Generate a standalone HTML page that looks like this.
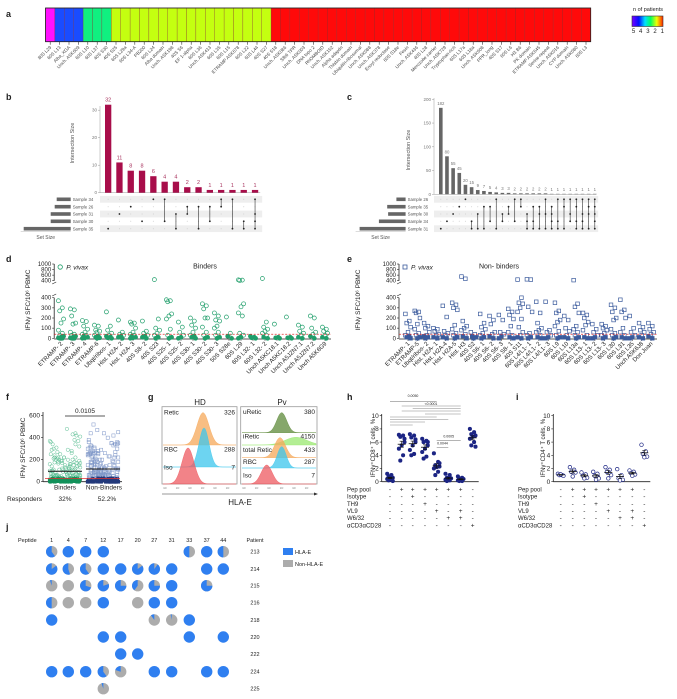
<!DOCTYPE html>
<html><head><meta charset="utf-8">
<style>
html,body{margin:0;padding:0;background:#fff;}
svg{display:block;font-family:"Liberation Sans",Arial,sans-serif;}
</style></head>
<body>
<svg id="fig" width="677" height="699" viewBox="0 0 677 699" xmlns="http://www.w3.org/2000/svg">
<defs>
<linearGradient id="npat" x1="0" x2="1" y1="0" y2="0">
<stop offset="0" stop-color="#7a00ff"/><stop offset="0.22" stop-color="#0010ff"/><stop offset="0.42" stop-color="#00e0ff"/><stop offset="0.6" stop-color="#00ff60"/><stop offset="0.8" stop-color="#f0ff00"/><stop offset="1" stop-color="#ff2000"/>
</linearGradient>
</defs>
</svg>
<script>
// ---------- DATA ----------
const heatLabels = ["80S L29","60S L13","Alba_XGA","Unch. ASK609","60S L10","60S L37","40S S30","40S S25","60S L29a","60S L34-A","PB200","60S L24","Alba domain","Unch. ASK198","40S S6","EF 1-alpha","60S L36","Unch. ASK413","60S L35","60S L15","ETRAMP ASK678","60S L22","60S L44","40S S27","40S S18","Unch. ASK086","Sfb6 TPR","Unch. ASK003","DNA topo 2","RhOMBOID","Unch. ASK152","Alpha adaptin","Thisbio domain","Ubiquitin-ribosomal","Unch. ASK088","Unch. ASK378","Enoyl reductase","60S S18e","Fesin","Unch. ASK436","40S L28","Merozoite carrier","Unch. ASK729","Tryptophan-rich","60S L17a","60S L18a","Unch. ASK608","PPR_long","40S S17","60S L6","H3 B6","PK domain","ETRAMP ASK645","Serine-repeat","Unch. ASK016","CYP domain","Unch. ASK080","60S L3"];
const heatCounts = [5,4,4,4,3,3,3,2,2,2,2,2,2,2,2,2,2,2,2,2,2,2,2,2,1,1,1,1,1,1,1,1,1,1,1,1,1,1,1,1,1,1,1,1,1,1,1,1,1,1,1,1,1,1,1,1,1,1];

const bValues = [32,11,8,8,6,4,4,2,2,1,1,1,1,1];
const bSets = ["Sample 34","Sample 26","Sample 31","Sample 30","Sample 35"];
const bSetSizes = [14,16,20,20,47];
const bCombos = [[4],[2],[1],[3],[0],[0,3],[2,4],[1,2],[1,4],[1,3],[0,1],[0,4],[3,4],[0,2,3,4]];

const cValues = [182,80,55,45,20,15,9,7,5,4,3,3,2,2,2,2,2,2,1,1,1,1,1,1,1,1];
const cSets = ["Sample 26","Sample 35","Sample 30","Sample 34","Sample 31"];
const cSetSizes = [20,40,38,58,100];
const cCombos = [[4],[3],[2],[1],[0],[3,4],[2,4],[1,4],[1,3],[0,4],[2,3],[1,2],[0,3],[0,1],[2,3,4],[1,3,4],[1,2,4],[0,2,4],[1,2,3,4],[0,3,4],[0,1,4],[0,2,3],[0,1,3,4],[0,2,3,4],[0,1,2,4],[0,1,2,3,4]];

const dCats = ["ETRAMP- 2","ETRAMP- 3","ETRAMP- 4","ETRAMP-6","Ubqt/ribos- 1","Hist. H2A- 2","Hist. H2A- 3","40S S8- 2","40S S23","40S S25- 1","40S S25- 2","40S S30- 1","40S S30- 2","40S S30- 3","50S S28e","60S L29","60S L32- 1","60S L32- 2","Unch A5KC18.1","Unch A5KC18.2","Unch A5JZN7.1","Unch A5JZN7.2","Unch A5K6G9"];
const dVals = [
[370,300,270,190,150,80,50,30,20,10,5,0,0],
[290,280,220,150,140,60,40,30,20,10,5,0,0],
[175,165,120,90,60,40,30,20,10,5,0],
[130,120,80,70,60,30,20,10,5,0],
[260,120,80,50,30,20,10,5,0],
[180,60,40,30,20,10,0],
[160,150,140,100,60,40,30,20,10,5,0],
[170,70,50,30,20,10,0],
[440,190,100,80,50,30,10,0],
[380,370,360,240,220,190,90,30,10,0],
[160,110,60,30,10,0],
[200,170,130,100,60,30,20,10,0],
[340,320,290,200,200,110,60,30,10,0],
[250,220,180,170,120,100,60,30,10,0],
[210,50,20,0],
[430,420,410,340,310,250,220,50,30,10,0],
[20,10,5,0],
[480,160,110,90,70,50,30,10,0],
[140,10,5,0],
[210,10,5,0],
[130,110,70,50,30,10,0],
[220,200,100,60,40,20,0],
[110,90,70,50,30,10,0]];

const eCats = ["ETRAMP- 1","ETRAMP-5","Ubqt/ribos- 2","Hist. H2A- 1","Hist. H2A-4","Hist. H2A-5","Hist. H3","40S S2","40S S6- 1","40S S6- 2","40S S6- 3","40S S8- 1","40S S11","60S L4/L1- 1","60S L4/L1- 2","60S L4/L1- 3","60S L9","60S L10","60S L13a","60S L13- 1","60S L13- 2","60S L13- 3","60S L30","60S L31","60S L35","Unch A5K6J8","Don Juan"];
const eVals = [
[240,170,150,110,60,30,20,10,0],
[270,260,250,200,140,90,50,30,10,0],
[150,120,100,60,30,20,10,0],
[100,90,70,40,30,10,0],
[320,210,70,50,30,10,0],
[350,330,300,280,130,90,50,30,10,0],
[550,470,170,120,100,80,40,20,0],
[60,40,20,10,0],
[240,150,110,90,50,30,10,0],
[220,180,140,60,40,20,0],
[230,180,60,40,20,0],
[290,260,230,190,120,60,30,10,0],
[440,400,350,340,300,260,190,110,60,30,10,0],
[450,440,310,260,50,30,10,0],
[360,250,150,100,80,60,30,10,0],
[360,80,60,30,10,0],
[350,270,250,180,160,120,70,30,10,0],
[220,180,100,70,30,10,0],
[420,340,310,250,120,90,60,30,10,0],
[250,230,200,160,130,80,30,10,0],
[140,90,60,30,10,0],
[140,120,100,80,50,30,10,0],
[330,300,260,200,180,90,50,30,10,0],
[380,280,260,200,100,60,30,10,0],
[220,100,60,30,10,0],
[150,110,80,60,30,10,0],
[150,120,90,60,40,20,0]];

const hGroups = [
[1.2,1.0,0.8,0.6,0.5,0.4,0.3,0.2,0.1,0.6],
[7.1,7.0,6.8,6.0,5.5,5.0,4.0,3.2,6.5],
[7.2,7.0,6.7,6.0,5.5,4.8,4.2,4.0,6.4],
[6.5,6.2,6.0,5.5,5.0,4.5,3.8,3.5,6.0],
[4.3,3.0,2.5,2.3,2.2,2.0,1.5,1.0,2.8],
[1.2,1.0,0.6,0.5,0.4,0.3,0.2,0.1],
[0.8,0.6,0.5,0.4,0.3,0.2,0.1,0.1],
[8.0,7.5,7.2,7.0,6.8,6.5,6.0,5.5,5.3]];
const iGroups = [
[1.2,1.0,1.0,0.9,1.1],
[2.2,1.8,1.5,1.4,0.8],
[1.4,1.1,0.9,0.6,0.5],
[1.5,1.2,0.9,0.5,0.3],
[2.2,1.8,1.5,1.0,0.5],
[1.9,1.0,0.5,0.3,0.2],
[1.7,1.5,1.3,1.1,0.9],
[5.6,4.6,4.2,3.8,3.7]];
const condRows = ["Pep pool","Isotype","TH9","VL9","W6/32","\u03b1CD3\u03b1CD28"];
const condSigns = [
"-+++++ +-".replace(" ",""),
"--+-----",
"---+----",
"----+-+-",
"-----++-",
"-------+"];
const yTicks10 = [0,2,4,6,8,10];

const jPeptides = ["1","4","7","12","17","20","27","31","33","37","44"];
const jPatients = ["213","214","215","216","218","220","222","224","225"];
const jFrac = [
[0.6,1,1,1,null,null,null,null,0.5,1,0.5],
[0.85,0.55,0.6,1,1,0.85,0.9,1,null,1,1],
[0.05,0,0.7,0.8,0.75,0.4,0.75,1,null,0.75,null],
[0.5,0,0,1,null,0,1,1,null,null,null],
[1,null,null,null,null,null,0.1,0.03,1,null,null],
[null,null,null,1,1,null,null,null,1,null,1],
[null,null,null,null,1,1,null,null,null,null,null],
[1,1,1,0.6,0.2,null,1,1,null,1,1],
[null,null,null,0.05,null,null,null,null,null,null,null]];

// ---------- HELPERS ----------
const svg = document.getElementById('fig');
const NS = 'http://www.w3.org/2000/svg';
function mk(tag, attrs, name) {
  const e = document.createElementNS(NS, tag);
  for (const k in attrs) e.setAttribute(k, attrs[k]);
  
  
  svg.appendChild(e);
  return e;
}
function txt(x, y, s, size, anchor, name, extra) {
  const a = {x:x, y:y, 'font-size':size, 'text-anchor':anchor||'start', fill:'#222'};
  if (extra) for (const k in extra) a[k] = extra[k];
  const e = mk('text', a, name);
  e.textContent = s;
  return e;
}
function line(x1,y1,x2,y2,stroke,w,name,dash){
  const a={x1:x1,y1:y1,x2:x2,y2:y2,stroke:stroke,'stroke-width':w};
  if(dash) a['stroke-dasharray']=dash;
  return mk('line',a,name);
}
function panelLabel(x,y,s){ txt(x,y,s,9,'start','panel-label-'+s,{'font-weight':'bold'}); }

// ---------- PANEL A ----------
panelLabel(6,17,'a');
const hx0 = 45.5, hx1 = 590.7, hy0 = 8, hy1 = 41.7;
const cw = (hx1-hx0)/heatLabels.length;
const heatColor = {5:'#ff10ff',4:'#1a4cff',3:'#10f080',2:'#c4ff10',1:'#ff0a0a'};
heatLabels.forEach((lab,i)=>{
  const x = hx0 + i*cw;
  mk('rect',{x:x,y:hy0,width:cw,height:hy1-hy0,fill:heatColor[heatCounts[i]],stroke:'#8a3030','stroke-width':0.3},'heatmap-cell');
  line(x+cw/2,hy1,x+cw/2,hy1+3,'#333',0.6,'heatmap-tick');
  txt(x+cw/2+1.5,hy1+6,lab,4.6,'end','heatmap-label',{transform:'rotate(-45 '+(x+cw/2+1.5)+' '+(hy1+6)+')',fill:'#444'});
});
mk('rect',{x:hx0,y:hy0,width:hx1-hx0,height:hy1-hy0,fill:'none',stroke:'#222','stroke-width':0.8},'heatmap-frame');
txt(648,11,'n of patients',5.5,'middle','legend-title');
mk('rect',{x:632,y:16,width:31,height:10.5,fill:'url(#npat)',stroke:'#333','stroke-width':0.6},'legend-colorbar');
['5','4','3','2','1'].forEach((s,i)=>{ txt(633.5+i*7.2,33,s,6,'middle','legend-tick'); });

// ---------- UPSET HELPER ----------
function upset(o){
  const n = o.values.length;
  const ys = v => o.y0 - v*o.k;
  line(o.ax,o.yTop,o.ax,o.y0,'#999',0.5,o.id+'-y-axis');
  line(o.ax,o.y0,o.ax+o.sp*n+2,o.y0,'#999',0.5,o.id+'-x-axis');
  o.ticks.forEach(t=>{ line(o.ax-2,ys(t),o.ax,ys(t),'#999',0.5,o.id+'-tick'); txt(o.ax-3,ys(t)+1.5,String(t),4.5,'end',o.id+'-tick-label',{fill:'#777'}); });
  txt(o.ylx,o.yly,'Intersection Size',5.5,'middle',o.id+'-y-title',{transform:'rotate(-90 '+o.ylx+' '+o.yly+')',fill:'#555'});
  const rows = [199.3,206.7,214,221.3,228.7];
  rows.forEach((ry,r)=>{
    if(r%2===0) mk('rect',{x:o.ax,y:ry-3.4,width:o.sp*n+4,height:6.8,fill:'#eeeeee'},o.id+'-matrix-stripe');
    mk('rect',{x:o.setRight-o.setSizes[r]*o.sk,y:ry-1.8,width:o.setSizes[r]*o.sk,height:3.6,fill:'#666'},o.id+'-set-size-bar');
    txt(o.setRight+2,ry+1.6,o.sets[r],4.3,'start',o.id+'-set-label',{fill:'#555'});
  });
  line(o.setRight-50,231.7,o.setRight,231.7,'#aaa',0.4,o.id+'-set-axis');
  txt(o.setRight-25,239,'Set Size',5,'middle',o.id+'-set-title',{fill:'#555'});
  o.values.forEach((v,i)=>{
    const cx = o.ax + 5 + i*o.sp + o.bw/2;
    mk('rect',{x:cx-o.bw/2,y:ys(v),width:o.bw,height:v*o.k,fill:o.color},o.id+'-bar');
    txt(cx,ys(v)-3,String(v),o.lblSize,'middle',o.id+'-bar-value',{fill:o.lblColor});
    rows.forEach((ry,r)=>{ mk('circle',{cx:cx,cy:ry,r:0.5,fill:'#ccc'},o.id+'-matrix-empty-dot'); });
    const cb = o.combos[i];
    const mn = Math.min(...cb), mx = Math.max(...cb);
    if(cb.length>1) line(cx,rows[mn],cx,rows[mx],'#333',0.6,o.id+'-matrix-link');
    cb.forEach(r=>{ mk('circle',{cx:cx,cy:rows[r],r:0.9,fill:'#222'},o.id+'-matrix-dot'); });
  });
}
panelLabel(6,100,'b');
upset({id:'b',values:bValues,sets:bSets,setSizes:bSetSizes,combos:bCombos,ax:100,y0:192.7,k:2.75,yTop:106,sp:11.3,bw:6.3,ticks:[0,10,20,30],ylx:74,yly:143,setRight:70.7,sk:1.0,color:'#a80d4a',lblColor:'#a8335e',lblSize:5.5});
panelLabel(347,100,'c');
upset({id:'c',values:cValues,sets:cSets,setSizes:cSetSizes,combos:cCombos,ax:434,y0:194.3,k:0.475,yTop:98,sp:6.16,bw:3.6,ticks:[0,50,100,150,200],ylx:410,yly:150,setRight:405.6,sk:0.46,color:'#666',lblColor:'#777',lblSize:4.3});

// ---------- PANELS D / E ----------
function yBreak(v){ return v<=400 ? 338.3 - v*0.1015 : 280.7 - (v-400)*0.0278; }
function stripPanel(o){
  const n = o.cats.length;
  const xs = i => o.x0 + i*(o.x1-o.x0)/(n-1);
  line(o.ax,338.3,o.ax,297.7,'#222',0.8,o.id+'-y-axis-lower');
  line(o.ax,280.7,o.ax,264,'#222',0.8,o.id+'-y-axis-upper');
  line(o.ax-2,284,o.ax+2,282,'#222',0.6,o.id+'-axis-break');
  line(o.ax-2,296,o.ax+2,294,'#222',0.6,o.id+'-axis-break');
  [0,100,200,300,400].forEach(t=>{ line(o.ax-2,yBreak(t),o.ax,yBreak(t),'#222',0.6,o.id+'-tick'); txt(o.ax-3,yBreak(t)+2,String(t),6,'end',o.id+'-tick-label'); });
  [400.01,600,800,1000].forEach(t=>{ line(o.ax-2,yBreak(t),o.ax,yBreak(t),'#222',0.6,o.id+'-tick'); txt(o.ax-3,yBreak(t)+2,String(Math.round(t)),6,'end',o.id+'-tick-label'); });
  line(o.ax,339,o.xEnd,339,'#222',0.8,o.id+'-x-axis');
  txt(o.ylx,300,'IFN\u03b3 SFC/10\u2076 PBMC',6.5,'middle',o.id+'-y-title',{transform:'rotate(-90 '+o.ylx+' 300)'});
  txt(o.tx,268.7,o.title,7,'middle',o.id+'-title');
  if(o.shape==='c') mk('circle',{cx:o.ax+6,cy:267,r:2.2,fill:'none',stroke:o.color,'stroke-width':0.8},o.id+'-legend-marker');
  else mk('rect',{x:o.ax+4,y:265,width:4,height:4,fill:'none',stroke:o.color,'stroke-width':0.8},o.id+'-legend-marker');
  txt(o.ax+12,269.5,'P. vivax',6.5,'start',o.id+'-legend-label',{'font-style':'italic'});
  o.cats.forEach((c,i)=>{
    const cx = xs(i);
    line(cx,339,cx,341,'#222',0.5,o.id+'-x-tick');
    txt(cx+2,344,c,6,'end',o.id+'-category-label',{transform:'rotate(-45 '+(cx+2)+' 344)'});
    o.vals[i].forEach((v,j)=>{
      const px = cx + ((j*3)%5-2)*1.3, py = yBreak(v);
      if(o.shape==='c') mk('circle',{cx:px,cy:py,r:2,fill:v<30?o.color:'none',stroke:o.color,'stroke-width':0.7},o.id+'-point');
      else mk('rect',{x:px-1.8,y:py-1.8,width:3.6,height:3.6,fill:v<30?o.color:'none',stroke:o.color,'stroke-width':0.7},o.id+'-point');
    });
  });
  line(o.ax,yBreak(40),o.xEnd,yBreak(40),'#e03030',0.8,o.id+'-threshold-line','2,1.5');
}
panelLabel(6,262,'d');
stripPanel({id:'d',cats:dCats,vals:dVals,x0:61,x1:325,ax:54.2,xEnd:331,ylx:30,tx:205,title:'Binders',shape:'c',color:'#1f9e6a'});
panelLabel(347,262,'e');
stripPanel({id:'e',cats:eCats,vals:eVals,x0:408,x1:651,ax:399,xEnd:657,ylx:360,tx:499,title:'Non- binders',shape:'s',color:'#3a5a9c'});

// ---------- PANEL F ----------
panelLabel(6,400,'f');
const yF = v => 481.7 - v*0.11;
line(43,412,43,481.7,'#222',0.8,'f-y-axis');
line(43,481.7,122,481.7,'#222',0.8,'f-x-axis');
[0,200,400,600].forEach(t=>{ line(41,yF(t),43,yF(t),'#222',0.6,'f-tick'); txt(40,yF(t)+2,String(t),6.5,'end','f-tick-label'); });
txt(25,448,'IFN\u03b3 SFC/10\u2076 PBMC',6.5,'middle','f-y-title',{transform:'rotate(-90 25 448)'});
const fBinders = dVals.flat(), fNon = eVals.flat();
[[fBinders,65,'c','#5cbf94','#12915a'],[fNon,103,'s','#7f97c8','#22397a']].forEach((g,gi)=>{
  g[0].forEach((v,k)=>{
    const px = g[1] + ((k*37)%33 - 16)*0.95;
    const py = yF(Math.min(v,520));
    if(g[2]==='c') mk('circle',{cx:px,cy:py,r:1.7,fill:v<40?g[4]:'none',stroke:v<40?g[4]:g[3],'stroke-width':0.5},'f-point');
    else mk('rect',{x:px-1.6,y:py-1.6,width:3.2,height:3.2,fill:v<40?g[4]:'none',stroke:v<40?g[4]:g[3],'stroke-width':0.5},'f-point');
  });
  const mean = g[0].reduce((a,b)=>a+b,0)/g[0].length;
  line(g[1]-17,yF(mean),g[1]+17,yF(mean),'#111',1,'f-mean-line');
});
line(45,yF(30),120,yF(30),'#e03030',0.8,'f-threshold-line');
line(65,416,105,416,'#222',0.7,'f-significance-bracket');
txt(85,413,'0.0105',6.5,'middle','f-p-value');
txt(65,489.5,'Binders',6.5,'middle','f-category-label');
txt(104,489.5,'Non-Binders',6.5,'middle','f-category-label');
txt(7,501,'Responders',6.5,'start','f-responders-label');
txt(65,501,'32%',6.5,'middle','f-responders-binders');
txt(107,501,'52.2%',6.5,'middle','f-responders-nonbinders');

// ---------- PANEL G ----------
panelLabel(148,400,'g');
txt(200,405,'HD',8,'middle','g-hd-title');
txt(282,405,'Pv',8,'middle','g-pv-title');
function hist(cx,sd,peakY,base,color,name,x0,x1){
  let d='M'+x0+' '+base;
  for(let x=x0;x<=x1;x+=0.5){ const g=Math.exp(-Math.pow((x-cx)/sd,2)/2); d+=' L'+x+' '+(base-(base-peakY)*g).toFixed(2); }
  d+=' L'+x1+' '+base+' Z';
  mk('path',{d:d,fill:color,'fill-opacity':0.75,stroke:color,'stroke-width':0.4},name);
}
mk('rect',{x:162,y:406.7,width:75,height:77.3,fill:'#fff',stroke:'#999','stroke-width':0.8},'g-hd-box');
hist(203,6,412.7,445,'#f5a85a','g-hd-retic-histogram',163,236);
hist(204,5,428,467,'#3cc6ec','g-hd-rbc-histogram',163,236);
hist(188,6,448,484,'#ee5a60','g-hd-iso-histogram',163,236);
txt(164,414.5,'Retic',6.5,'start','g-label');txt(235,414.5,'326',6.5,'end','g-value');
txt(164,451.5,'RBC',6.5,'start','g-label');txt(235,451.5,'288',6.5,'end','g-value');
txt(164,469.5,'Iso',6.5,'start','g-label');txt(235,469.5,'7',6.5,'end','g-value');
mk('rect',{x:240.7,y:406.7,width:76.3,height:77.3,fill:'none',stroke:'#999','stroke-width':0.8},'g-pv-box');
hist(281.7,5,412.7,432.7,'#5e8a3a','g-pv-uretic-histogram',242,316);
hist(296,11,437.3,445,'#9ae870','g-pv-iretic-histogram',242,316);
hist(280,5.5,437.7,457.7,'#f5a85a','g-pv-totalretic-histogram',242,316);
hist(281.7,4.5,446.7,468,'#3cc6ec','g-pv-rbc-histogram',242,316);
hist(266.7,5.5,465,484,'#ee5a60','g-pv-iso-histogram',242,316);
txt(243,414,'uRetic',6.5,'start','g-label');txt(315,414,'380',6.5,'end','g-value');
txt(243,438.5,'iRetic',6.5,'start','g-label');txt(315,438.5,'4150',6.5,'end','g-value');
txt(243,452,'total Retic',6.5,'start','g-label');txt(315,452,'433',6.5,'end','g-value');
txt(243,464,'RBC',6.5,'start','g-label');txt(315,464,'287',6.5,'end','g-value');
txt(243,477.5,'Iso',6.5,'start','g-label');txt(315,477.5,'7',6.5,'end','g-value');
for(let i=0;i<6;i++){ txt(165+i*12.5,489,'10\u00b2',2.5,'middle','g-tick-label',{fill:'#777'}); txt(244+i*12.5,489,'10\u00b2',2.5,'middle','g-tick-label',{fill:'#777'}); }
line(162,494,316,494,'#333',0.6,'g-axis-arrow');
mk('path',{d:'M318 494 L314 492.5 L314 495.5 Z',fill:'#333'},'g-arrow-head');
txt(240,505,'HLA-E',8,'middle','g-x-title');

// ---------- PANELS H / I ----------
function dotPanel(o){
  const yH = v => 481.7 - v*6.6;
  line(o.ax,414,o.ax,481.7,'#222',0.8,o.id+'-y-axis');
  line(o.ax,481.7,o.xs[7]+6,481.7,'#222',0.8,o.id+'-x-axis');
  yTicks10.forEach(t=>{ line(o.ax-2,yH(t),o.ax,yH(t),'#222',0.6,o.id+'-tick'); txt(o.ax-3,yH(t)+2.2,String(t),6.5,'end',o.id+'-tick-label'); });
  txt(o.ylx,448,o.ytitle,6,'middle',o.id+'-y-title',{transform:'rotate(-90 '+o.ylx+' 448)'});
  o.groups.forEach((g,i)=>{
    const cx=o.xs[i];
    g.forEach((v,j)=>{
      const px = cx + ((j*3)%5-2)*1.4;
      mk('circle',{cx:px,cy:yH(v),r:o.open?1.8:1.7,fill:o.open?'#fff':'#1c2584',stroke:'#1c2584','stroke-width':0.7},o.id+'-point');
    });
    const m = g.reduce((a,b)=>a+b,0)/g.length;
    const sd = Math.sqrt(g.reduce((a,b)=>a+(b-m)*(b-m),0)/(g.length-1))/Math.sqrt(g.length);
    line(cx-4,yH(m),cx+4,yH(m),'#111',0.8,o.id+'-mean');
    line(cx,yH(m-sd),cx,yH(m+sd),'#111',0.6,o.id+'-sem');
    line(cx-2,yH(m-sd),cx+2,yH(m-sd),'#111',0.6,o.id+'-sem-cap');
    line(cx-2,yH(m+sd),cx+2,yH(m+sd),'#111',0.6,o.id+'-sem-cap');
  });
  const ry=[489.3,496.7,503.8,510.9,518,525.6];
  condRows.forEach((r,ri)=>{
    txt(o.lx,ry[ri]+2,r,6,'start',o.id+'-condition-label');
    for(let i=0;i<8;i++) txt(o.xs[i],ry[ri]+2,condSigns[ri][i]==='+'?'+':'-',6.5,'middle',o.id+'-condition-sign');
  });
}
panelLabel(347,400,'h');
const hX=[390,401.7,412.7,425,436.7,448.3,460.7,472.7];
dotPanel({id:'h',groups:hGroups,xs:hX,ax:381.7,ylx:375,lx:347,open:false,ytitle:'IFN\u03b3\u207aCD8\u207a T cells, %'});
[[0,4,401.7,'0.0050'],[1,6,406],[2,6,408.5],[1,6,411],[3,6,414],[0,4,417],[0,5,419.5],[0,3,422],[0,2,425]].forEach((s,k)=>{
  line(hX[s[0]],s[2],hX[s[1]],s[2],'#888',0.6,'h-significance-line');
});
txt(413,397,'0.0050',3.5,'middle','h-p-value');
txt(431,405,'<0.0001',3.5,'middle','h-p-value');
line(hX[4],440.7,hX[6],440.7,'#888',0.6,'h-significance-line');
txt(448.7,437.7,'0.0005',3.5,'middle','h-p-value');
line(hX[4],447.3,hX[5],447.3,'#888',0.6,'h-significance-line');
txt(442.5,444.3,'0.0044',3.5,'middle','h-p-value');
panelLabel(516,400,'i');
dotPanel({id:'i',groups:iGroups,xs:[560.7,572.7,584.3,596,608.3,620,632.3,644.3],ax:553.3,ylx:545,lx:518,open:true,ytitle:'IFN\u03b3\u207aCD4\u207a T cells, %'});

// ---------- PANEL J ----------
panelLabel(6,530,'j');
const jX=[51.7,68.3,85.7,103.3,120.7,137.7,154.3,171.7,189.3,206.7,223.3];
const jY=[551.7,569,585.7,602.7,620,637,654,671.7,688.7];
txt(18,542,'Peptide',5.5,'start','j-peptide-title');
txt(255,542,'Patient',5.5,'middle','j-patient-title');
jPeptides.forEach((p,i)=>txt(jX[i],542,p,5.5,'middle','j-peptide-label'));
jPatients.forEach((p,r)=>{
  txt(255,jY[r]+2,p,5.5,'middle','j-patient-label');
  jFrac[r].forEach((f,i)=>{
    if(f===null) return;
    const cx=jX[i], cy=jY[r], R=5.7;
    mk('circle',{cx:cx,cy:cy,r:R,fill:f>=1?'#2f7ff0':'#acacac'},'j-pie');
    if(f>0 && f<1){
      const a=2*Math.PI*f, ex=cx - R*Math.sin(a), ey=cy - R*Math.cos(a);
      mk('path',{d:'M'+cx+' '+cy+' L'+cx+' '+(cy-R)+' A'+R+' '+R+' 0 '+(f>0.5?1:0)+' 0 '+ex.toFixed(2)+' '+ey.toFixed(2)+' Z',fill:'#2f7ff0'},'j-pie-slice');
    }
  });
});
mk('rect',{x:283,y:548,width:10,height:7,fill:'#2f7ff0'},'j-legend-hla-e-swatch');
txt(295,554,'HLA-E',5.5,'start','j-legend-hla-e');
mk('rect',{x:283,y:560,width:10,height:7,fill:'#acacac'},'j-legend-non-hla-e-swatch');
txt(295,566,'Non-HLA-E',5.5,'start','j-legend-non-hla-e');
</script>
</body></html>
